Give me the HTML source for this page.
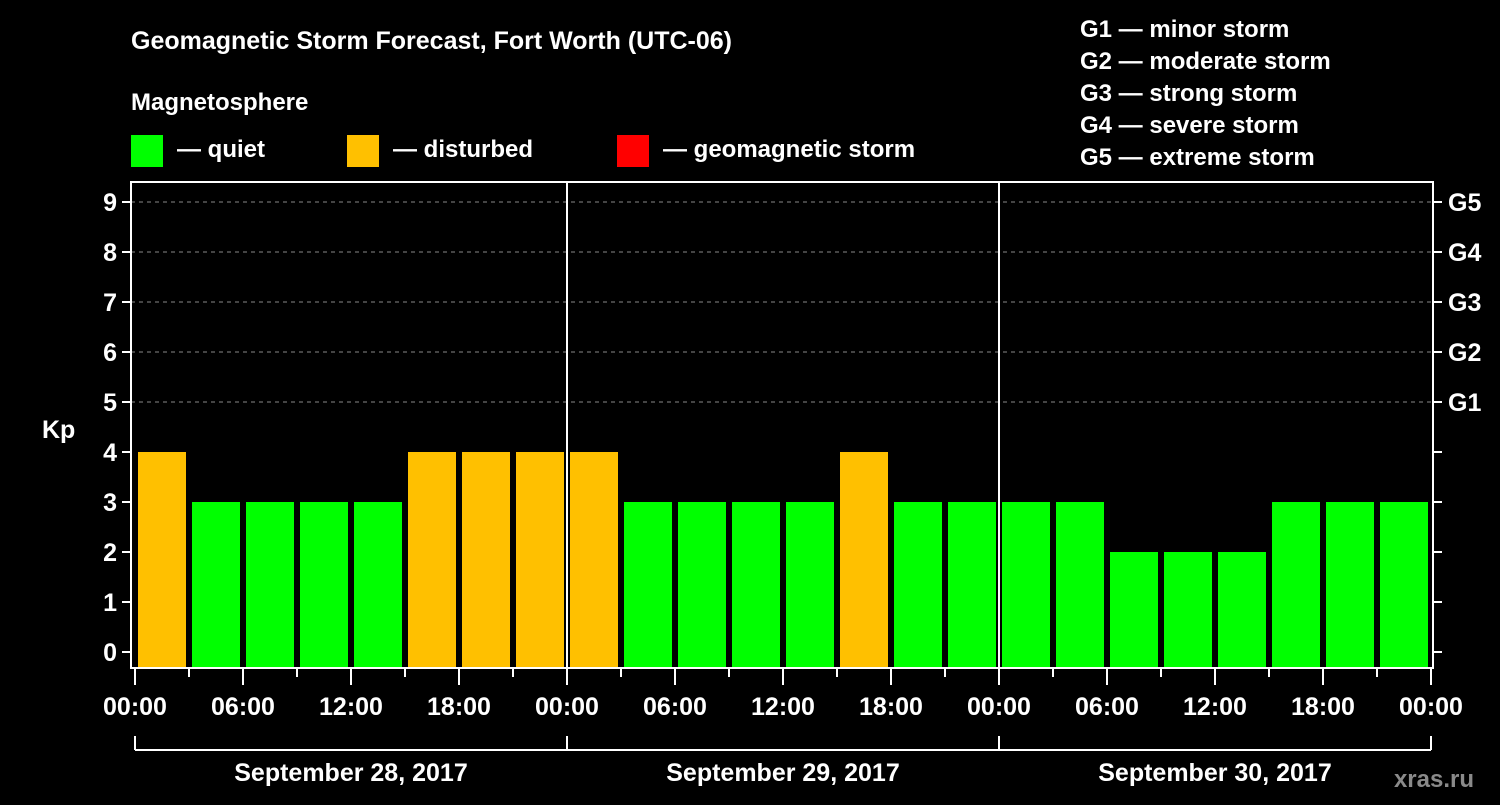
<!DOCTYPE html>
<html><head><meta charset="utf-8"><style>
body{margin:0;background:#000;width:1500px;height:800px;overflow:hidden}
svg text{font-family:"Liberation Sans",Arial,sans-serif;font-weight:bold;fill:#fff}
</style></head><body>
<svg id="c" width="1500" height="800" xmlns="http://www.w3.org/2000/svg">
<rect width="1500" height="800" fill="#000"/>
<text x="131" y="49" font-size="25">Geomagnetic Storm Forecast, Fort Worth (UTC-06)</text>
<text x="131" y="110" font-size="24">Magnetosphere</text>
<g><rect x="131" y="135" width="32" height="32" fill="#00ff00"/><text x="177" y="157" font-size="24">— quiet</text></g>
<g><rect x="347" y="135" width="32" height="32" fill="#ffc000"/><text x="393" y="157" font-size="24">— disturbed</text></g>
<g><rect x="617" y="135" width="32" height="32" fill="#ff0000"/><text x="663" y="157" font-size="24">— geomagnetic storm</text></g>
<g font-size="24">
<text x="1080" y="37">G1 — minor storm</text>
<text x="1080" y="69">G2 — moderate storm</text>
<text x="1080" y="101">G3 — strong storm</text>
<text x="1080" y="133">G4 — severe storm</text>
<text x="1080" y="165">G5 — extreme storm</text>
</g>
<text x="42" y="438" font-size="25">Kp</text>
<text x="1474" y="787" font-size="24" fill="#888" style="fill:#8a8a8a" text-anchor="end">xras.ru</text>
<g id="plot"></g>
</svg>
<script>
const kpValues=[4,3,3,3,3,4,4,4, 4,3,3,3,3,4,3,3, 3,3,2,2,2,3,3,3];
const dayLabels=["September 28, 2017","September 29, 2017","September 30, 2017"];
const hourLabels=["00:00","06:00","12:00","18:00"];
const yTicks=[0,1,2,3,4,5,6,7,8,9];
const gLabels=["G1","G2","G3","G4","G5"];
const NS="http://www.w3.org/2000/svg",g=document.getElementById('plot');
const X0=135,SLOT=54,L=131,R=1433,T=182,B=668;
const x=i=>X0+i*SLOT, y=v=>652-50*v;
function el(t,a,p){const e=document.createElementNS(NS,t);for(const k in a)e.setAttribute(k,a[k]);(p||g).appendChild(e);return e;}
yTicks.forEach(v=>{
 if(v>=5){const d=el('line',{x1:L,x2:R,y1:y(v),y2:y(v),stroke:'#888','stroke-dasharray':'4,4','stroke-width':1});
 
 }
 el('line',{x1:L-9,x2:L,y1:y(v),y2:y(v),stroke:'#fff','stroke-width':2});
 el('line',{x1:R,x2:R+9,y1:y(v),y2:y(v),stroke:'#fff','stroke-width':2});
 const t=el('text',{x:L-14,y:y(v)+9,'font-size':25,'text-anchor':'end'});t.textContent=v;
 
 
});
gLabels.forEach((s,i)=>{const t=el('text',{x:1448,y:y(5+i)+9,'font-size':25});t.textContent=s;
 
 });
kpValues.forEach((v,i)=>{
 const c=v>=5?'#ff0000':(v>=4?'#ffc000':'#00ff00');
 const r=el('rect',{x:x(i)+3,y:y(v),width:48,height:B-y(v),fill:c});
 
 
});
el('rect',{x:L,y:T,width:R-L,height:B-T,fill:'none',stroke:'#fff','stroke-width':2});
[1,2].forEach(d=>el('line',{x1:x(8*d),x2:x(8*d),y1:T,y2:B,stroke:'#fff','stroke-width':2}));
for(let i=0;i<=24;i++){
 const maj=i%2==0;
 el('line',{x1:x(i),x2:x(i),y1:B,y2:B+(maj?17:9),stroke:'#fff','stroke-width':2});
 if(maj){const t=el('text',{x:x(i),y:715,'font-size':25,'text-anchor':'middle'});t.textContent=hourLabels[(i/2)%4];
 
 }
}
el('line',{x1:x(0),x2:x(24),y1:750,y2:750,stroke:'#fff','stroke-width':2});
[0,8,16,24].forEach(i=>el('line',{x1:x(i),x2:x(i),y1:736,y2:750,stroke:'#fff','stroke-width':2}));
dayLabels.forEach((s,d)=>{const t=el('text',{x:x(8*d+4),y:781,'font-size':25,'text-anchor':'middle'});t.textContent=s;
 
 });
</script>
</body></html>
